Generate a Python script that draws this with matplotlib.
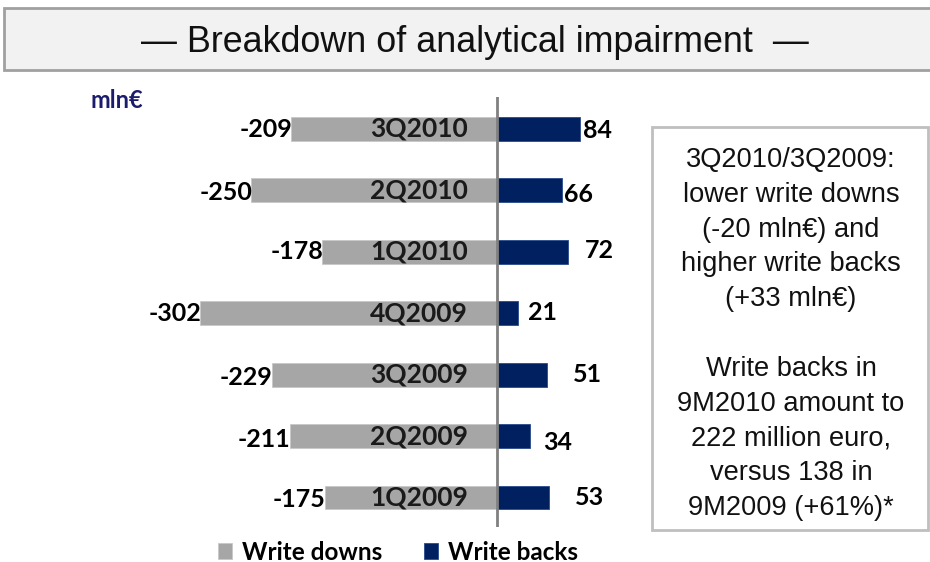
import matplotlib
matplotlib.use('Agg')
import matplotlib.pyplot as plt
from matplotlib.patches import Rectangle

# data, top row first
quarters = ['3Q2010', '2Q2010', '1Q2010', '4Q2009', '3Q2009', '2Q2009', '1Q2009']
write_downs = [-209, -250, -178, -302, -229, -211, -175]
write_backs = [84, 66, 72, 21, 51, 34, 53]

# label nudges in pixels (the original slide placed some labels by hand)
wd_dy = [1, 2, 0, 0, 3, 3, 2]
wb_dx = [3, 2, 17, 10, 26, 13, 26]
wb_dy = [2, 4, -1, -1, 0, 6, 0]

note = ('3Q2010/3Q2009:\nlower write downs\n(-20 mln€) and\nhigher write backs\n(+33 mln€)\n\n'
        'Write backs in\n9M2010 amount to\n222 million euro,\nversus 138 in\n9M2009 (+61%)*')

GREY = '#a6a6a6'
NAVY = '#002060'
W, H = 930, 562


def fx(px):
    return px / W


def fy(py):
    return 1 - py / H


fig = plt.figure(figsize=(9.3, 5.62), dpi=100)

# title band
fig.patches.append(Rectangle((fx(4), fy(70)), fx(1000), fy(8) - fy(70), transform=fig.transFigure,
                             facecolor='#f2f2f2', edgecolor='#a0a0a0', linewidth=2))
fig.text(fx(475), fy(42), '\u2014 Breakdown of analytical impairment  \u2014', ha='center', va='center',
         fontsize=25.8, family='Liberation Sans', color='#111111')

fig.text(fx(90), fy(101), 'mln€', ha='left', va='center', fontsize=17, fontweight='bold',
         family='Lato', color='#1c1c6c')

# chart
ax = fig.add_axes([fx(150), fy(527), fx(650) - fx(150), fy(97) - fy(527)])
rows = list(range(len(quarters)))
ax.barh(rows, write_downs, height=0.39, color=GREY, edgecolor='#c8c8c8', linewidth=0.6, label='Write downs')
ax.barh(rows, write_backs, height=0.39, color=NAVY, edgecolor='#2a4a8a', linewidth=0.6, label='Write backs')
ax.set_xlim((150 - 497) / 0.9834, (650 - 497) / 0.9834)
ax.set_ylim(len(quarters) - 0.52, -0.52)
ax.axvline(0, color='#808080', linewidth=2)
ax.axis('off')

lbl = dict(fontweight='bold', family='Lato', va='center', textcoords='offset pixels')
for i, q in enumerate(quarters):
    ax.annotate(q, (0, i), xytext=(-29, 0), ha='right', color='#1a1a1a', fontsize=19, **lbl)
    ax.annotate(str(write_downs[i]), (write_downs[i], i), xytext=(1, -wd_dy[i]), ha='right',
                color='black', fontsize=18, **lbl)
    ax.annotate(str(write_backs[i]), (write_backs[i], i), xytext=(wb_dx[i], -wb_dy[i]), ha='left',
                color='black', fontsize=18, **lbl)

# legend
leg = ax.legend(loc='center', bbox_to_anchor=(fx(398), fy(552)), bbox_transform=fig.transFigure,
                ncol=2, frameon=False, handlelength=0.6, handleheight=0.6, handletextpad=0.4,
                columnspacing=1.7, borderpad=0, prop={'family': 'Lato', 'weight': 'bold', 'size': 17.5})

# note box
fig.patches.append(Rectangle((fx(652), fy(530)), fx(928) - fx(652), fy(127) - fy(530),
                             transform=fig.transFigure, facecolor='white', edgecolor='#bfbfbf',
                             linewidth=2))
fig.text(fx(791), fy(334), note, ha='center', va='center', fontsize=19.6, family='Liberation Sans',
         linespacing=1.44, color='#111111')

fig.savefig('out.png', dpi=100)
